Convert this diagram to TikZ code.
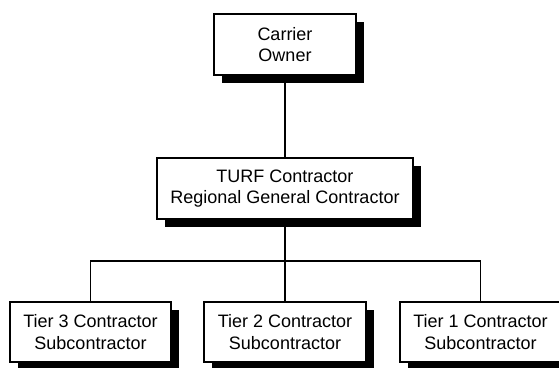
\documentclass[tikz,border=0pt]{standalone}
\usepackage{fontspec}
\setmainfont{Liberation Sans}
\usetikzlibrary{shadows}

\begin{document}
\begin{tikzpicture}[x=1pt,y=-1pt,
  party/.style={draw,fill=white,line width=1.3pt,inner sep=0pt,align=center,
    font=\fontsize{18}{21.5}\selectfont,
    drop shadow={shadow xshift=8pt,shadow yshift=-8pt,fill=black,opacity=1}},
  link/.style={line width=1.3pt}]
\useasboundingbox (0,0) rectangle (559,367);
\node[party,minimum width=142pt,minimum height=61pt] (owner) at (285,44.5) {Carrier\\Owner};
\node[party,minimum width=256pt,minimum height=61pt] (turf) at (285,188.5) {TURF Contractor\\Regional General Contractor};
\node[party,minimum width=161pt,minimum height=60pt] (tier3) at (90.5,332) {Tier 3 Contractor\\Subcontractor};
\node[party,minimum width=162pt,minimum height=60pt] (tier2) at (285,332) {Tier 2 Contractor\\Subcontractor};
\node[party,minimum width=161pt,minimum height=60pt] (tier1) at (480.5,332) {Tier 1 Contractor\\Subcontractor};
\coordinate (bus) at (285,261);
\draw[link] (owner.south) -- (turf.north);
\draw[link] (turf.south) -- (tier2.north);
\draw[link] (tier3.north) |- (bus) -| (tier1.north);
\end{tikzpicture}
\end{document}
